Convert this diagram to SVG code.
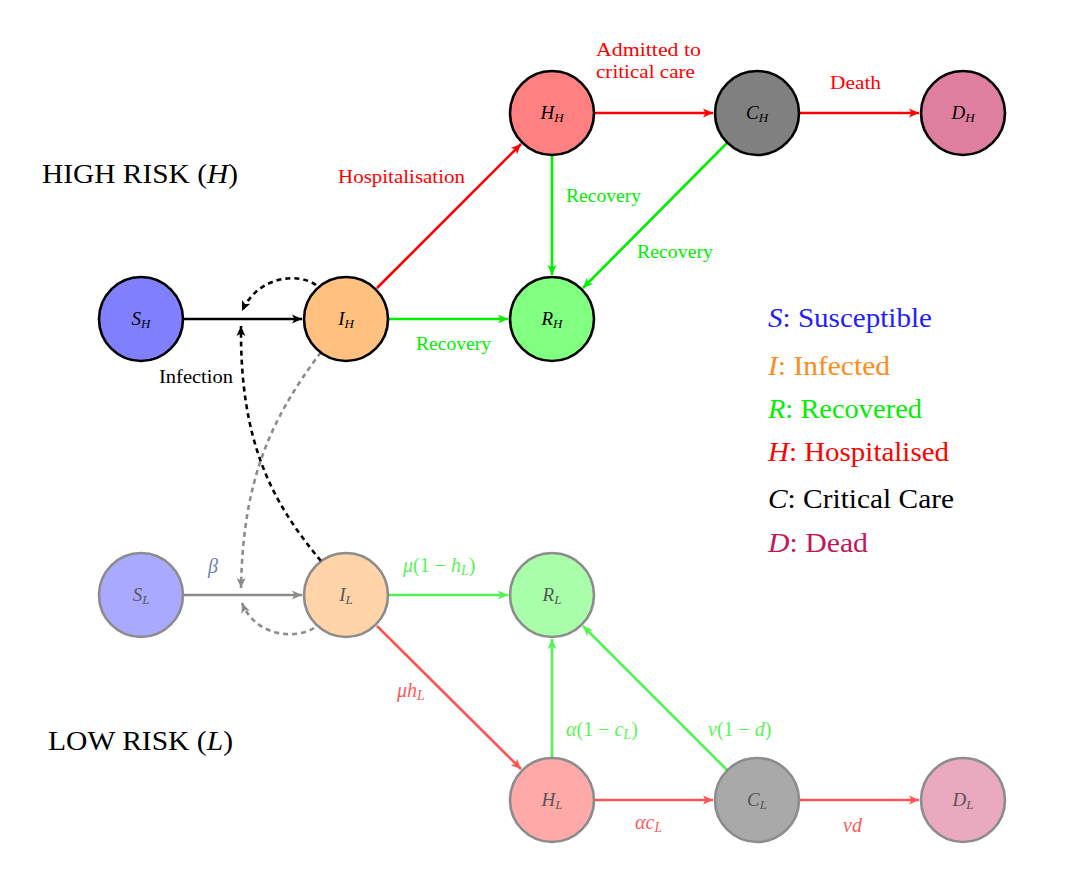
<svg xmlns="http://www.w3.org/2000/svg" width="1092" height="873" viewBox="0 0 1092 873" font-family="'Liberation Serif','DejaVu Serif',serif">
<style>
text{font-family:"Liberation Serif","DejaVu Serif",serif;}
.nd{stroke:#000;stroke-width:2.6;}
.lo .nd{stroke:#555;}
.nl{font-size:19px;text-anchor:middle;}
.it{font-style:italic;}
.sb{font-size:13px;font-style:italic;}
.ms{font-size:14px;font-style:italic;}
.e{fill:none;stroke-width:2.6;}
.k{stroke:#000;}
.g{stroke:#555;}
.r{stroke:#ff0000;}
.gr{stroke:#00ee00;}
.d{stroke-dasharray:5 4;}
.lb{font-size:19px;}
.mt{font-size:20px;}
.lg{font-size:28px;}
</style>
<defs>
<marker id="ak" markerWidth="14" markerHeight="12" refX="11" refY="6" orient="auto" markerUnits="userSpaceOnUse"><path d="M1,1.5 L11,6 L1,10.5 L3.5,6 Z" fill="#000"/></marker>
<marker id="ag" markerWidth="14" markerHeight="12" refX="11" refY="6" orient="auto" markerUnits="userSpaceOnUse"><path d="M1,1.5 L11,6 L1,10.5 L3.5,6 Z" fill="#555"/></marker>
<marker id="ar" markerWidth="14" markerHeight="12" refX="11" refY="6" orient="auto" markerUnits="userSpaceOnUse"><path d="M1,1.5 L11,6 L1,10.5 L3.5,6 Z" fill="#ff0000"/></marker>
<marker id="agr" markerWidth="14" markerHeight="12" refX="11" refY="6" orient="auto" markerUnits="userSpaceOnUse"><path d="M1,1.5 L11,6 L1,10.5 L3.5,6 Z" fill="#00ee00"/></marker>
</defs>
<rect width="1092" height="873" fill="#fff"/>

<g id="connectors">
<g id="conn-high">
<line class="e k" x1="184" y1="319" x2="302" y2="319" marker-end="url(#ak)"/>
<path class="e k d" d="M316 285 C298 272,258 276,242 311" marker-end="url(#ak)"/>
<line class="e r" x1="377" y1="288" x2="521" y2="144" marker-end="url(#ar)"/>
<line class="e gr" x1="389" y1="319" x2="508" y2="319" marker-end="url(#agr)"/>
<line class="e gr" x1="552" y1="156" x2="552" y2="275" marker-end="url(#agr)"/>
<line class="e gr" x1="727" y1="143" x2="583" y2="288" marker-end="url(#agr)"/>
<line class="e r" x1="595" y1="113" x2="713" y2="113" marker-end="url(#ar)"/>
<line class="e r" x1="800" y1="113" x2="919" y2="113" marker-end="url(#ar)"/>
<path class="e k d" d="M321 561 C270 500,240 440,241 326" marker-end="url(#ak)"/>
</g>
<g id="conn-low" opacity="0.67">
<line class="e g" x1="184" y1="595" x2="302" y2="595" marker-end="url(#ag)"/>
<path class="e g d" d="M321 352 C270 420,243 480,241 588" marker-end="url(#ag)"/>
<path class="e g d" d="M314 628 C295 640,255 636,242 603" marker-end="url(#ag)"/>
<line class="e gr" x1="389" y1="595" x2="508" y2="595" marker-end="url(#agr)"/>
<line class="e r" x1="377" y1="626" x2="521" y2="769" marker-end="url(#ar)"/>
<line class="e gr" x1="552" y1="757" x2="552" y2="639" marker-end="url(#agr)"/>
<line class="e gr" x1="727" y1="770" x2="583" y2="626" marker-end="url(#agr)"/>
<line class="e r" x1="595" y1="800" x2="713" y2="800" marker-end="url(#ar)"/>
<line class="e r" x1="800" y1="800" x2="919" y2="800" marker-end="url(#ar)"/>
</g>
</g>

<g id="nodes">
<g id="S_H"><circle class="nd" cx="141" cy="319" r="42" fill="#8080ff"/><text class="nl" x="141" y="325"><tspan class="it">S</tspan><tspan class="sb" dy="3">H</tspan></text></g>
<g id="I_H"><circle class="nd" cx="346" cy="319" r="42" fill="#ffc080"/><text class="nl" x="346" y="325"><tspan class="it">I</tspan><tspan class="sb" dy="3">H</tspan></text></g>
<g id="R_H"><circle class="nd" cx="552" cy="319" r="42" fill="#80ff80"/><text class="nl" x="552" y="325"><tspan class="it">R</tspan><tspan class="sb" dy="3">H</tspan></text></g>
<g id="H_H"><circle class="nd" cx="552" cy="113" r="42" fill="#ff8080"/><text class="nl" x="552" y="119"><tspan class="it">H</tspan><tspan class="sb" dy="3">H</tspan></text></g>
<g id="C_H"><circle class="nd" cx="757" cy="113" r="42" fill="#808080"/><text class="nl" x="757" y="119"><tspan class="it">C</tspan><tspan class="sb" dy="3">H</tspan></text></g>
<g id="D_H"><circle class="nd" cx="963" cy="113" r="42" fill="#df7f9f"/><text class="nl" x="963" y="119"><tspan class="it">D</tspan><tspan class="sb" dy="3">H</tspan></text></g>
<g class="lo" opacity="0.67">
<g id="S_L"><circle class="nd" cx="141" cy="595" r="42" fill="#8080ff"/><text class="nl" x="141" y="601"><tspan class="it">S</tspan><tspan class="sb" dy="3">L</tspan></text></g>
<g id="I_L"><circle class="nd" cx="346" cy="595" r="42" fill="#ffc080"/><text class="nl" x="346" y="601"><tspan class="it">I</tspan><tspan class="sb" dy="3">L</tspan></text></g>
<g id="R_L"><circle class="nd" cx="552" cy="595" r="42" fill="#80ff80"/><text class="nl" x="552" y="601"><tspan class="it">R</tspan><tspan class="sb" dy="3">L</tspan></text></g>
<g id="H_L"><circle class="nd" cx="552" cy="800" r="42" fill="#ff8080"/><text class="nl" x="552" y="806"><tspan class="it">H</tspan><tspan class="sb" dy="3">L</tspan></text></g>
<g id="C_L"><circle class="nd" cx="757" cy="800" r="42" fill="#808080"/><text class="nl" x="757" y="806"><tspan class="it">C</tspan><tspan class="sb" dy="3">L</tspan></text></g>
<g id="D_L"><circle class="nd" cx="963" cy="800" r="42" fill="#df7f9f"/><text class="nl" x="963" y="806"><tspan class="it">D</tspan><tspan class="sb" dy="3">L</tspan></text></g>
</g>
</g>

<g id="labels">
<text x="42" y="183" font-size="27" textLength="196" lengthAdjust="spacingAndGlyphs" fill="#000">HIGH RISK (<tspan class="it">H</tspan>)</text>
<text x="48" y="750" font-size="27" textLength="185" lengthAdjust="spacingAndGlyphs" fill="#000">LOW RISK (<tspan class="it">L</tspan>)</text>
<text class="lb" x="338" y="183" textLength="127" lengthAdjust="spacingAndGlyphs" fill="#ff0000">Hospitalisation</text>
<text class="lb" x="596" y="56" textLength="105" lengthAdjust="spacingAndGlyphs" fill="#ff0000">Admitted to</text>
<text class="lb" x="596" y="78" textLength="99" lengthAdjust="spacingAndGlyphs" fill="#ff0000">critical care</text>
<text class="lb" x="830" y="89" textLength="51" lengthAdjust="spacingAndGlyphs" fill="#ff0000">Death</text>
<text class="lb" x="566" y="202" textLength="75" lengthAdjust="spacingAndGlyphs" fill="#00ee00">Recovery</text>
<text class="lb" x="637" y="258" textLength="76" lengthAdjust="spacingAndGlyphs" fill="#00ee00">Recovery</text>
<text class="lb" x="416" y="350" textLength="75" lengthAdjust="spacingAndGlyphs" fill="#00ee00">Recovery</text>
<text class="lb" x="159" y="383" textLength="74" lengthAdjust="spacingAndGlyphs" fill="#000">Infection</text>
<g opacity="0.67">
<text class="mt it" x="208" y="573" fill="#2a3f8f">β</text>
<text class="mt" x="403" y="572" fill="#00ee00"><tspan class="it">μ</tspan>(1 − <tspan class="it">h</tspan><tspan class="ms" dy="3">L</tspan><tspan dy="-3">)</tspan></text>
<text class="mt" x="397" y="697" fill="#ff0000"><tspan class="it">μh</tspan><tspan class="ms" dy="3">L</tspan></text>
<text class="mt" x="566" y="736" fill="#00ee00"><tspan class="it">α</tspan>(1 − <tspan class="it">c</tspan><tspan class="ms" dy="3">L</tspan><tspan dy="-3">)</tspan></text>
<text class="mt" x="708" y="736" fill="#00ee00"><tspan class="it">ν</tspan>(1 − <tspan class="it">d</tspan>)</text>
<text class="mt" x="635" y="829" fill="#ff0000"><tspan class="it">αc</tspan><tspan class="ms" dy="3">L</tspan></text>
<text class="mt it" x="843" y="832" fill="#ff0000">νd</text>
</g>
</g>

<g id="legend">
<text class="lg" x="768" y="327" textLength="164" lengthAdjust="spacingAndGlyphs" fill="#2020ff"><tspan class="it">S</tspan>: Susceptible</text>
<text class="lg" x="768" y="375" textLength="122" lengthAdjust="spacingAndGlyphs" fill="#ff8c1a"><tspan class="it">I</tspan>: Infected</text>
<text class="lg" x="768" y="418" textLength="154" lengthAdjust="spacingAndGlyphs" fill="#00ee00"><tspan class="it">R</tspan>: Recovered</text>
<text class="lg" x="768" y="461" textLength="181" lengthAdjust="spacingAndGlyphs" fill="#ff0000"><tspan class="it">H</tspan>: Hospitalised</text>
<text class="lg" x="768" y="508" textLength="186" lengthAdjust="spacingAndGlyphs" fill="#000"><tspan class="it">C</tspan>: Critical Care</text>
<text class="lg" x="768" y="552" textLength="100" lengthAdjust="spacingAndGlyphs" fill="#c0185a"><tspan class="it">D</tspan>: Dead</text>
</g>
</svg>
